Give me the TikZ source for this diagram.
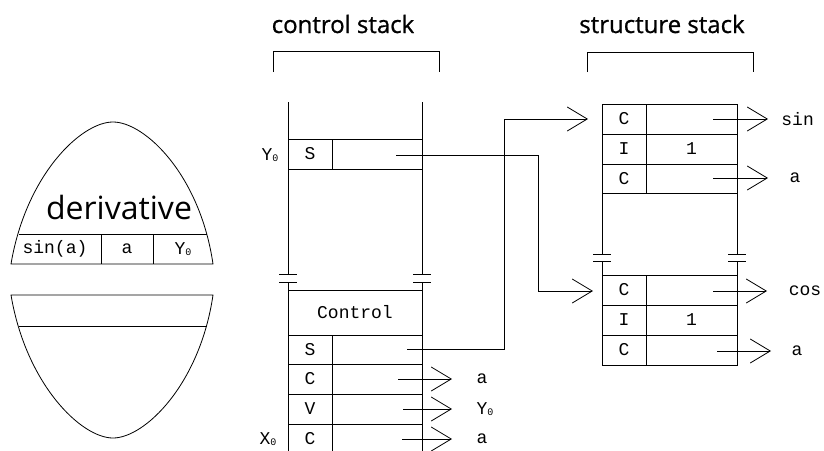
\documentclass[tikz,border=0pt]{standalone}
\usepackage{fontspec}
\setmainfont{Open Sans}
\newfontfamily\monof{Liberation Mono}
\newfontfamily\titlef[FakeBold=0.8]{Open Sans}
\usetikzlibrary{arrows.meta}
\newcommand\zsub{\raisebox{-1pt}{\fontsize{10}{10}\selectfont 0}}
\begin{document}
\begin{tikzpicture}[x=1pt,y=-1pt,line width=0.8pt,
  cell/.style={draw,inner sep=0pt,outer sep=0pt,anchor=north west,font=\monof\fontsize{18}{18}\selectfont},
  lab/.style={inner sep=0pt,font=\monof\fontsize{18}{18}\selectfont},
  title/.style={inner sep=0pt,anchor=base,font=\titlef\fontsize{24}{28}\selectfont},
  arr/.style={-{Straight Barb[length=20pt,width=24pt]}}
]
\useasboundingbox (0,0) rectangle (824,450);

% ---------- egg ----------
\draw (11,264) .. controls (26,175) and (81,122) .. (113,122) .. controls (145,122) and (200,175) .. (213,264) -- cycle;
\draw (19,234) -- (207,234);
\draw (101,234) -- (101,264) (153,234) -- (153,264);
\draw (11,295) .. controls (26,384) and (81,438) .. (113,438) .. controls (145,438) and (200,384) .. (213,295) -- cycle;
\draw (19,326) -- (207,326);
\node[inner sep=0pt,anchor=base,font=\fontsize{32}{36}\selectfont] (der) at (119,219) {derivative};
\node[lab] (e1) at (55,249) {sin(a)};
\node[lab] (e2) at (127,249) {a};
\node[lab] (e3) at (183,249) {Y\zsub};

% ---------- control stack ----------
\node[title] (ct) at (343,33) {control stack};
\draw (273,72) -- (273,51) -- (439,51) -- (439,72);
\draw (288,102) -- (288,139) (422,102) -- (422,139);
\node[cell,minimum width=44pt,minimum height=30pt] (yS) at (288,139) {S};
\node[cell,minimum width=90pt,minimum height=30pt] (yR) at (332,139) {};
\node[lab] (y0) at (270,155) {Y\zsub};
\draw (288,169) -- (288,274) (422,169) -- (422,274);
\foreach \x in {288,422} {\draw (\x-9,274) -- (\x+9,274) (\x-9,282) -- (\x+9,282) (\x,282) -- (\x,290);}
\node[cell,minimum width=134pt,minimum height=45pt] (ctl) at (288,290) {Control};
\node[cell,minimum width=44pt,minimum height=29pt] (cS) at (288,335) {S};
\node[cell,minimum width=90pt,minimum height=29pt] (cSr) at (332,335) {};
\node[cell,minimum width=44pt,minimum height=30pt] (cC1) at (288,364) {C};
\node[cell,minimum width=90pt,minimum height=30pt] (cC1r) at (332,364) {};
\node[cell,minimum width=44pt,minimum height=30pt] (cV) at (288,394) {V};
\node[cell,minimum width=90pt,minimum height=30pt] (cVr) at (332,394) {};
\node[cell,minimum width=44pt,minimum height=30pt] (cC2) at (288,424) {C};
\node[cell,minimum width=90pt,minimum height=30pt] (cC2r) at (332,424) {};
\node[lab] (x0) at (268,439) {X\zsub};

\coordinate (a1s) at (398,379); \coordinate (a1t) at (452,379);
\coordinate (a2s) at (403,409); \coordinate (a2t) at (452,409);
\coordinate (a3s) at (402,439); \coordinate (a3t) at (452,439);
\draw[arr] (a1s) -- (a1t);
\draw[arr] (a2s) -- (a2t);
\draw[arr] (a3s) -- (a3t);
\node[lab] (la1) at (482,379) {a};
\node[lab] (la2) at (485,409) {Y\zsub};
\node[lab] (la3) at (482,439) {a};

% ---------- structure stack ----------
\node[title] (st) at (662,33) {structure stack};
\draw (587,72) -- (587,52) -- (753,52) -- (753,72);
\node[cell,minimum width=44pt,minimum height=30pt] (u1) at (602,104) {C};
\node[cell,minimum width=91pt,minimum height=30pt] (u1r) at (646,104) {};
\node[cell,minimum width=44pt,minimum height=30pt] (u2) at (602,134) {I};
\node[cell,minimum width=91pt,minimum height=30pt] (u2r) at (646,134) {1};
\node[cell,minimum width=44pt,minimum height=29pt] (u3) at (602,164) {C};
\node[cell,minimum width=91pt,minimum height=29pt] (u3r) at (646,164) {};
\draw (602,193) -- (602,254) (737,193) -- (737,254);
\foreach \x in {602,737} {\draw (\x-9,254) -- (\x+9,254) (\x-9,261) -- (\x+9,261) (\x,261) -- (\x,275);}
\node[cell,minimum width=44pt,minimum height=30pt] (d1) at (602,275) {C};
\node[cell,minimum width=91pt,minimum height=30pt] (d1r) at (646,275) {};
\node[cell,minimum width=44pt,minimum height=30pt] (d2) at (602,305) {I};
\node[cell,minimum width=91pt,minimum height=30pt] (d2r) at (646,305) {1};
\node[cell,minimum width=44pt,minimum height=30pt] (d3) at (602,335) {C};
\node[cell,minimum width=91pt,minimum height=30pt] (d3r) at (646,335) {};

\coordinate (b1s) at (713,119); \coordinate (b1t) at (768,119);
\coordinate (b2s) at (713,178); \coordinate (b2t) at (768,178);
\coordinate (b3s) at (713,291); \coordinate (b3t) at (767,291);
\coordinate (b4s) at (717,351); \coordinate (b4t) at (771,351);
\draw[arr] (b1s) -- (b1t);
\draw[arr] (b2s) -- (b2t);
\draw[arr] (b3s) -- (b3t);
\draw[arr] (b4s) -- (b4t);
\node[lab,anchor=west] (lsin) at (781,119) {sin};
\node[lab] (lb2) at (795,178) {a};
\node[lab] (lcos) at (805,291) {cos};
\node[lab] (lb4) at (797,351) {a};

% ---------- links ----------
\coordinate (s1s) at (396,155); \coordinate (t2) at (593,291);
\coordinate (s2s) at (407,349); \coordinate (t1) at (588,119);
\draw[arr] (s2s) -| (504,119) -- (t1);
\draw[arr] (s1s) -| (538,291) -- (t2);
\end{tikzpicture}
\end{document}
